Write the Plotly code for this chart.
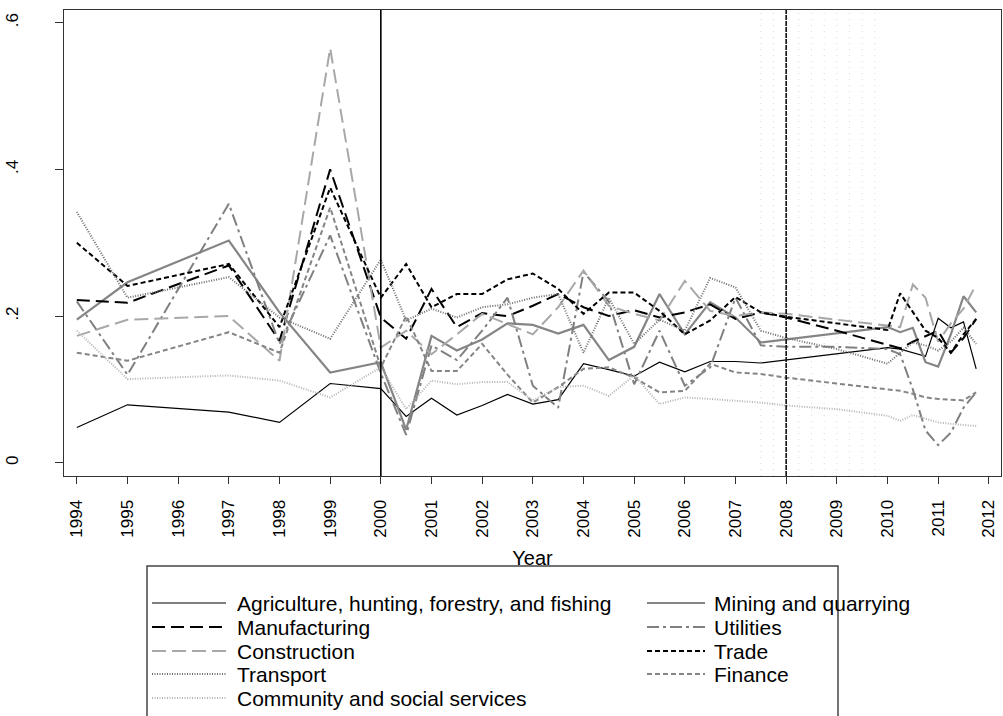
import plotly.graph_objects as go
import numpy as np

# ---------------- data ----------------
years = [1994, 1995, 1997, 1998, 1999,
         2000, 2000.5, 2001, 2001.5, 2002, 2002.5, 2003, 2003.5,
         2004, 2004.5, 2005, 2005.5, 2006, 2006.5, 2007, 2007.5,
         2008, 2009,
         2010, 2010.25, 2010.5, 2010.75, 2011, 2011.25, 2011.5, 2011.75]

agriculture = [0.048, 0.079, 0.069, 0.055, 0.108,
               0.101, 0.063, 0.088, 0.065, 0.078, 0.093, 0.080, 0.086,
               0.135, 0.127, 0.118, 0.137, 0.124, 0.138, 0.138, 0.136,
               0.140, 0.148,
               0.157, 0.155, 0.150, 0.145, 0.197, 0.184, 0.192, 0.128]
mining = [0.195, 0.246, 0.303, 0.205, 0.123,
          0.137, 0.045, 0.173, 0.153, 0.168, 0.190, 0.188, 0.176,
          0.188, 0.140, 0.158, 0.230, 0.175, 0.219, 0.198, 0.164,
          0.168, 0.176,
          0.185, 0.178, 0.184, 0.137, 0.131, 0.175, 0.227, 0.205]
manufacturing = [0.222, 0.218, 0.269, 0.166, 0.400,
                 0.198, 0.169, 0.237, 0.185, 0.204, 0.200, 0.214, 0.230,
                 0.212, 0.200, 0.208, 0.198, 0.205, 0.216, 0.196, 0.205,
                 0.198, 0.180,
                 0.161, 0.156, 0.165, 0.172, 0.180, 0.150, 0.170, 0.196]
utilities = [0.220, 0.120, 0.353, 0.162, 0.310,
             0.122, 0.038, 0.160, 0.140, 0.180, 0.225, 0.105, 0.075,
             0.260, 0.220, 0.107, 0.180, 0.105, 0.130, 0.225, 0.160,
             0.158, 0.158,
             0.155, 0.148, 0.100, 0.044, 0.024, 0.041, 0.075, 0.096]
construction = [0.173, 0.195, 0.200, 0.139, 0.565,
                0.157, 0.180, 0.148, 0.175, 0.203, 0.189, 0.175, 0.212,
                0.262, 0.214, 0.203, 0.194, 0.248, 0.207, 0.200, 0.205,
                0.203, 0.195,
                0.187, 0.185, 0.243, 0.225, 0.165, 0.190, 0.210, 0.243]
trade = [0.300, 0.241, 0.271, 0.185, 0.375,
         0.225, 0.271, 0.212, 0.230, 0.230, 0.250, 0.258, 0.237,
         0.203, 0.232, 0.232, 0.207, 0.175, 0.194, 0.226, 0.205,
         0.199, 0.190,
         0.181, 0.231, 0.205, 0.180, 0.170, 0.150, 0.175, 0.196]
transport = [0.342, 0.225, 0.253, 0.198, 0.169,
             0.277, 0.194, 0.210, 0.198, 0.212, 0.216, 0.225, 0.230,
             0.150, 0.225, 0.162, 0.195, 0.180, 0.252, 0.239, 0.180,
             0.170, 0.155,
             0.135, 0.150, 0.164, 0.160, 0.153, 0.165, 0.184, 0.162]
finance = [0.150, 0.139, 0.178, 0.150, 0.348,
           0.130, 0.200, 0.125, 0.125, 0.162, 0.120, 0.082, 0.103,
           0.128, 0.130, 0.116, 0.096, 0.098, 0.135, 0.123, 0.121,
           0.116, 0.108,
           0.100, 0.098, 0.094, 0.089, 0.087, 0.086, 0.085, 0.096]
community = [0.180, 0.114, 0.119, 0.112, 0.089,
             0.130, 0.073, 0.112, 0.107, 0.110, 0.110, 0.085, 0.103,
             0.105, 0.091, 0.119, 0.080, 0.089, 0.087, 0.085, 0.082,
             0.078, 0.073,
             0.064, 0.057, 0.065, 0.060, 0.055, 0.053, 0.051, 0.050]

series_names = ["Agriculture, hunting, forestry, and fishing", "Mining and quarrying",
                "Manufacturing", "Utilities", "Construction", "Trade",
                "Transport", "Finance", "Community and social services"]
series_values = [agriculture, mining, manufacturing, utilities, construction,
                 trade, transport, finance, community]

x_ticks = list(range(1994, 2013))
x_tick_labels = [str(y) for y in x_ticks]
y_ticks = [0, 0.2, 0.4, 0.6]
y_tick_labels = ["0", ".2", ".4", ".6"]
event_years = [2000, 2008]
shade_start, shade_end = 2007.5, 2009.75

# ---------------- styles ----------------
styles = [
    ("#000000", 1.2, "solid"),
    ("#858585", 2.2, "solid"),
    ("#000000", 2.0, "13px,6px"),
    ("#808080", 2.0, "12px,4px,3px,4px"),
    ("#a8a8a8", 2.0, "14px,6px"),
    ("#000000", 2.0, "5px,3px"),
    ("#6e6e6e", 2.0, "1px,1.5px"),
    ("#858585", 2.0, "5px,3px"),
    ("#b4b4b4", 2.0, "1px,1.5px"),
]

FONT = "Liberation Sans, Arial, sans-serif"
W, H = 1003, 716
L, R, T, B = 64, 2, 10, 240
PW, PH = W - L - R, H - T - B


def px(xp):
    return (xp - L) / PW


def py(yp):
    return (H - B - yp) / PH


fig = go.Figure()
for name, vals, (col, wid, dash) in zip(series_names, series_values, styles):
    fig.add_trace(go.Scatter(x=years, y=vals, mode="lines", name=name,
                             line=dict(color=col, width=wid, dash=dash),
                             connectgaps=True, showlegend=False))

shapes = []
# faint dotted quarter lines in shaded period
for q in np.arange(shade_start, shade_end + 0.001, 0.25):
    shapes.append(dict(type="line", xref="x", yref="paper", x0=q, x1=q, y0=0, y1=1,
                       line=dict(color="#dadada", width=1, dash="1px,5px"), layer="below"))
# event lines
shapes.append(dict(type="line", xref="x", yref="paper", x0=event_years[0], x1=event_years[0],
                   y0=0, y1=1, line=dict(color="#000000", width=1.6)))
shapes.append(dict(type="line", xref="x", yref="paper", x0=event_years[1], x1=event_years[1],
                   y0=0, y1=1, line=dict(color="#111111", width=1.6, dash="5px,1px")))

# manual legend
shapes.append(dict(type="rect", xref="paper", yref="paper",
                   x0=px(147), x1=px(838), y0=py(566), y1=py(722),
                   line=dict(color="#444444", width=1.5), fillcolor="rgba(0,0,0,0)",
                   layer="below"))
annotations = []
rows_y = [603, 627, 651, 674, 698]
col_sample = [(152, 226), (647, 705)]
col_text = [235, 712]
for i, (name, (col, wid, dash)) in enumerate(zip(series_names, styles)):
    c = i % 2
    r = i // 2
    yy = py(rows_y[r])
    shapes.append(dict(type="line", xref="paper", yref="paper",
                       x0=px(col_sample[c][0]), x1=px(col_sample[c][1]), y0=yy, y1=yy,
                       line=dict(color=col, width=wid, dash=dash)))
    annotations.append(dict(text=name, xref="paper", yref="paper", x=px(col_text[c]), y=yy,
                            xanchor="left", yanchor="middle", showarrow=False,
                            font=dict(family=FONT, size=21, color="#000000")))

fig.update_layout(
    width=W, height=H,
    margin=dict(l=L, r=R, t=T, b=B),
    paper_bgcolor="white", plot_bgcolor="white",
    font=dict(family=FONT, size=17, color="#000000"),
    shapes=shapes, annotations=annotations,
    showlegend=False,
)
fig.update_xaxes(range=[1993.747, 2012.24], tickvals=x_ticks, ticktext=x_tick_labels,
                 tickangle=-90, ticks="outside", ticklen=7, tickcolor="#333",
                 showgrid=False, zeroline=False, showline=True, linecolor="#333",
                 linewidth=1.2, mirror=True, ticklabelstandoff=9,
                 tickfont=dict(family=FONT, size=17),
                 title=dict(text="Year", font=dict(family=FONT, size=20), standoff=14))
fig.update_yaxes(range=[-0.0181, 0.6173], tickvals=y_ticks, ticktext=y_tick_labels,
                 tickangle=-90, ticks="outside", ticklen=8, tickcolor="#333",
                 showgrid=False, zeroline=False, showline=True, linecolor="#333",
                 linewidth=1.2, mirror=True, ticklabelstandoff=30,
                 tickfont=dict(family=FONT, size=17))

fig.write_html("out.html", config={"displayModeBar": False},
               post_script="document.body.style.margin='0';document.body.style.overflow='hidden';")
